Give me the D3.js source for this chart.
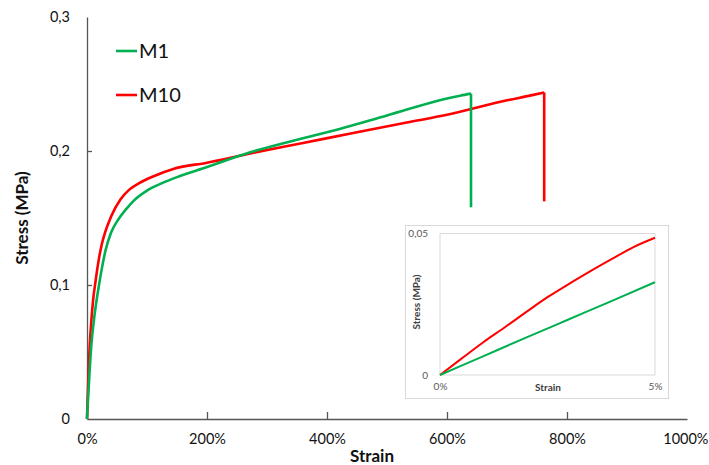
<!DOCTYPE html>
<html>
<head>
<meta charset="utf-8">
<script src="https://cdn.jsdelivr.net/npm/d3@7"></script>
<style>
  body { margin: 0; background: #fff; }
  svg { display: block; font-family: Lato, "Open Sans", sans-serif; }
</style>
</head>
<body>
<svg id="chart" width="709" height="465"></svg>
<script>
// ---- Data ----
const seriesNames = ["M1", "M10"];
const seriesColors = ["#00b050", "#ff0000"];

// Main chart: strain (%) and stress (MPa)
const m1Strain = [0, 1, 3.5, 7, 13, 20, 31, 40, 53, 66, 78, 100, 125, 150, 200, 272, 360, 400, 500, 600, 622, 640];
const m1Stress = [0, 0.009, 0.029, 0.054, 0.079, 0.1, 0.126, 0.139, 0.1495, 0.157, 0.163, 0.1705, 0.176, 0.1805, 0.188, 0.199, 0.2095, 0.214, 0.2265, 0.2392, 0.2413, 0.2428];
const m1Break = 0.158;

const m10Strain = [0, 1, 2, 4, 7, 10, 14, 20, 25, 30, 40, 56, 70, 87, 110, 145, 200, 272, 360, 450, 533, 600, 700, 740, 762];
const m10Stress = [0, 0.015, 0.028, 0.05, 0.072, 0.088, 0.102, 0.12, 0.131, 0.139, 0.151, 0.164, 0.171, 0.176, 0.181, 0.1868, 0.1913, 0.1982, 0.206, 0.214, 0.2213, 0.227, 0.2378, 0.2415, 0.2437];
const m10Break = 0.1624;

// Inset: first 5 % of strain
const insetM1Strain = [0, 1, 2, 3, 4, 5];
const insetM1Stress = [0, 0.0066, 0.0132, 0.0197, 0.0262, 0.0328];
const insetM10Strain = [0, 0.5, 1, 1.5, 2, 2.5, 3, 3.5, 4, 4.5, 5];
const insetM10Stress = [0, 0.0058, 0.0115, 0.0168, 0.0222, 0.0275, 0.0322, 0.0367, 0.041, 0.0452, 0.0485];

const xTicks = [0, 200, 400, 600, 800, 1000];
const yTicks = [0, 0.1, 0.2, 0.3];
const insetXTicks = [0, 5];
const insetYTicks = [0, 0.05];

// ---- Drawing ----
const svg = d3.select("#chart");
const commaFmt = d => d === 0 ? "0" : String(d).replace(".", ",");

const x = d3.scaleLinear().domain([0, 1000]).range([87, 687]);
const y = d3.scaleLinear().domain([0, 0.3]).range([419, 17]);

// Axes
const xAxis = d3.axisBottom(x).tickValues(xTicks).tickFormat(d => d + "%")
  .tickSizeInner(-7).tickSizeOuter(0).tickPadding(15);
const gx = svg.append("g").attr("transform", `translate(0,${y(0)})`).call(xAxis);
gx.selectAll(".tick line").filter(d => d === 0 || d === 1000).remove();

const yAxis = d3.axisLeft(y).tickValues(yTicks).tickFormat(commaFmt)
  .tickSizeInner(-5).tickSizeOuter(0).tickPadding(17);
const gy = svg.append("g").attr("transform", `translate(${x(0)},0)`).call(yAxis);
gy.selectAll(".tick line").filter(d => d === 0 || d === 0.3).remove();

[gx, gy].forEach(g => {
  g.select(".domain").attr("stroke", "#555").attr("stroke-width", 1.3);
  g.selectAll(".tick line").attr("stroke", "#555").attr("stroke-width", 1.3);
  g.selectAll(".tick text").attr("font-size", 14.5).attr("fill", "#111")
    .attr("font-family", "Lato, 'Open Sans', sans-serif");
});
// keep the last x label inside the page
gx.selectAll(".tick text").filter(d => d === 1000).attr("text-anchor", "end").attr("x", 21);

svg.append("text").attr("x", 372).attr("y", 462)
  .attr("text-anchor", "middle").attr("font-size", 17).attr("font-weight", "bold")
  .attr("fill", "#111").text("Strain");
svg.append("text").attr("transform", "translate(28,218) rotate(-90)")
  .attr("text-anchor", "middle").attr("font-size", 17).attr("font-weight", "bold")
  .attr("fill", "#111").text("Stress (MPa)");

// Curves
function drawSeries(g, sx, sy, strainArr, stressArr, breakVal, color, w) {
  const pts = strainArr.map((s, i) => [s, stressArr[i]]);
  const line = d3.line().x(d => sx(d[0])).y(d => sy(d[1])).curve(d3.curveMonotoneX);
  g.append("path").attr("d", line(pts)).attr("fill", "none")
    .attr("stroke", color).attr("stroke-width", w).attr("stroke-linejoin", "round");
  if (breakVal !== null) {
    const last = pts[pts.length - 1];
    const drop = [last, [last[0], breakVal]];
    g.append("path").attr("d", d3.line().x(d => sx(d[0])).y(d => sy(d[1]))(drop))
      .attr("fill", "none").attr("stroke", color).attr("stroke-width", w);
  }
}
const main = svg.append("g");
drawSeries(main, x, y, m10Strain, m10Stress, m10Break, seriesColors[1], 2.6);
drawSeries(main, x, y, m1Strain, m1Stress, m1Break, seriesColors[0], 2.6);

// Legend
seriesNames.forEach((name, i) => {
  const ly = 51 + i * 44;
  svg.append("line").attr("x1", 116).attr("x2", 137).attr("y1", ly).attr("y2", ly)
    .attr("stroke", seriesColors[i]).attr("stroke-width", 2.6);
  svg.append("text").attr("x", 139).attr("y", ly + 7).attr("font-size", 20)
    .attr("fill", "#111").text(name);
});

// Inset
svg.append("rect").attr("x", 405.5).attr("y", 225.5).attr("width", 263).attr("height", 173)
  .attr("fill", "#fff").attr("stroke", "#d9d9d9").attr("stroke-width", 1);
const ix = d3.scaleLinear().domain([0, 5]).range([440, 655]);
const iy = d3.scaleLinear().domain([0, 0.05]).range([375, 233.5]);
svg.append("rect").attr("x", ix(0)).attr("y", iy(0.05)).attr("width", ix(5) - ix(0))
  .attr("height", iy(0) - iy(0.05)).attr("fill", "none").attr("stroke", "#d9d9d9").attr("stroke-width", 1);

const ixAxis = d3.axisBottom(ix).tickValues(insetXTicks).tickFormat(d => d + "%").tickSize(0).tickPadding(8);
const gix = svg.append("g").attr("transform", `translate(0,${iy(0)})`).call(ixAxis);
const iyAxis = d3.axisLeft(iy).tickValues(insetYTicks).tickFormat(commaFmt).tickSize(0).tickPadding(12);
const giy = svg.append("g").attr("transform", `translate(${ix(0)},0)`).call(iyAxis);
[gix, giy].forEach(g => {
  g.select(".domain").remove();
  g.selectAll(".tick text").attr("font-size", 10).attr("fill", "#595959")
    .attr("font-family", "Lato, 'Open Sans', sans-serif");
});
svg.append("text").attr("x", 548).attr("y", 391).attr("text-anchor", "middle")
  .attr("font-size", 10).attr("font-weight", "bold").attr("fill", "#404040").text("Strain");
svg.append("text").attr("transform", "translate(420,302) rotate(-90)").attr("text-anchor", "middle")
  .attr("font-size", 10).attr("font-weight", "bold").attr("fill", "#404040").text("Stress (MPa)");

const inset = svg.append("g");
drawSeries(inset, ix, iy, insetM10Strain, insetM10Stress, null, seriesColors[1], 2);
drawSeries(inset, ix, iy, insetM1Strain, insetM1Stress, null, seriesColors[0], 2);
</script>
</body>
</html>
